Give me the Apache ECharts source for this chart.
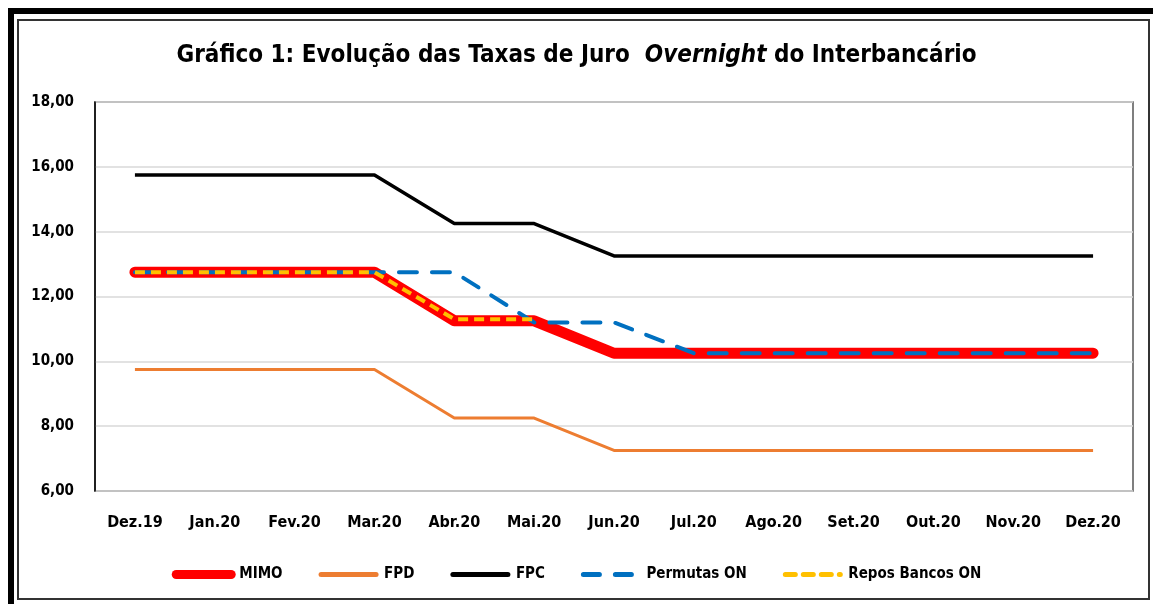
<!DOCTYPE html>
<html>
<head>
<meta charset="utf-8">
<script src="https://cdn.jsdelivr.net/npm/echarts@6/dist/echarts.min.js"></script>
<style>
  html, body { margin: 0; padding: 0; background: #fff; }
  #chart { width: 1153px; height: 604px; }
</style>
</head>
<body>
<div id="chart"></div>
<script>
var months = ['Dez.19','Jan.20','Fev.20','Mar.20','Abr.20','Mai.20','Jun.20','Jul.20','Ago.20','Set.20','Out.20','Nov.20','Dez.20'];
var mimo = [12.75,12.75,12.75,12.75,11.25,11.25,10.25,10.25,10.25,10.25,10.25,10.25,10.25];
var fpd = [9.75,9.75,9.75,9.75,8.25,8.25,7.25,7.25,7.25,7.25,7.25,7.25,7.25];
var fpc = [15.75,15.75,15.75,15.75,14.25,14.25,13.25,13.25,13.25,13.25,13.25,13.25,13.25];
var permutas = [12.75,12.75,12.75,12.75,12.75,11.2,11.2,10.25,10.25,10.25,10.25,10.25,10.25];
var repos = [12.75,12.75,12.75,12.75,11.3,11.3,null,null,null,null,null,null,null];

var font = '"DejaVu Sans Condensed", sans-serif';
var chart = echarts.init(document.getElementById('chart'));

var options = {
  animation: false,
  textStyle: { fontFamily: font },
  title: {
    left: 'center',
    top: 39,
    text: '{a|Gráfico 1: Evolução das Taxas de Juro  }{b|Overnight}{a| do Interbancário}',
    textStyle: {
      rich: {
        a: { fontFamily: font, fontWeight: 'bold', fontSize: 24, color: '#000' },
        b: { fontFamily: font, fontWeight: 'bold', fontStyle: 'italic', fontSize: 24, color: '#000' }
      }
    }
  },
  graphic: [
    { type: 'rect', shape: { x: 11, y: 11, width: 1150, height: 600 }, style: { fill: 'none', stroke: '#000', lineWidth: 6 } },
    { type: 'rect', shape: { x: 18, y: 20, width: 1131, height: 579 }, style: { fill: 'none', stroke: '#333', lineWidth: 2 } }
  ],
  legend: {
    left: 'center',
    top: 562,
    itemWidth: 55,
    itemHeight: 14,
    itemGap: 36,
    itemStyle: { opacity: 0 },
    textStyle: { fontFamily: font, fontWeight: 'bold', fontSize: 15, color: '#000', padding: [0, 0, 0, 3] },
    data: [
      { name: 'MIMO', lineStyle: { width: 9, cap: 'round' } },
      { name: 'FPD', lineStyle: { width: 5, cap: 'round' } },
      { name: 'FPC', lineStyle: { width: 5, cap: 'round' } },
      { name: 'Permutas ON', lineStyle: { width: 5, type: [16, 16], cap: 'round' } },
      { name: 'Repos Bancos ON', lineStyle: { width: 5, type: [10, 8], cap: 'round' } }
    ]
  },
  grid: {
    left: 95, right: 20, top: 102, bottom: 113,
    show: true, borderColor: '#555', borderWidth: 1.5
  },
  xAxis: {
    type: 'category',
    data: months,
    boundaryGap: true,
    axisLine: { show: false },
    axisTick: { show: false },
    axisLabel: { fontFamily: font, fontWeight: 'bold', fontSize: 16, color: '#000', margin: 24 }
  },
  yAxis: {
    type: 'value',
    min: 6, max: 18, interval: 2,
    axisLine: { show: true, lineStyle: { color: '#000', width: 1.5 } },
    axisTick: { show: false },
    splitLine: { lineStyle: { color: '#d9d9d9', width: 1.5 } },
    axisLabel: {
      fontFamily: font, fontWeight: 'bold', fontSize: 15, color: '#000', margin: 21,
      formatter: function (v) { return v.toFixed(2).replace('.', ','); }
    }
  },
  series: [
    {
      name: 'MIMO', type: 'line', data: mimo, symbol: 'none', color: '#ff0000',
      lineStyle: { width: 11, cap: 'round', join: 'round', color: '#ff0000' }
    },
    {
      name: 'FPD', type: 'line', data: fpd, symbol: 'none', color: '#ed7d31',
      lineStyle: { width: 3, color: '#ed7d31' }
    },
    {
      name: 'FPC', type: 'line', data: fpc, symbol: 'none', color: '#000',
      lineStyle: { width: 3.5, color: '#000' }
    },
    {
      name: 'Permutas ON', type: 'line', data: permutas, symbol: 'none', color: '#0070c0',
      lineStyle: { width: 4, type: [18, 15], cap: 'round', color: '#0070c0' }
    },
    {
      name: 'Repos Bancos ON', type: 'line', data: repos, symbol: 'none', color: '#ffc000',
      lineStyle: { width: 4, type: [10, 6], color: '#ffc000' }
    }
  ]
};

chart.setOption(options);
</script>
</body>
</html>
